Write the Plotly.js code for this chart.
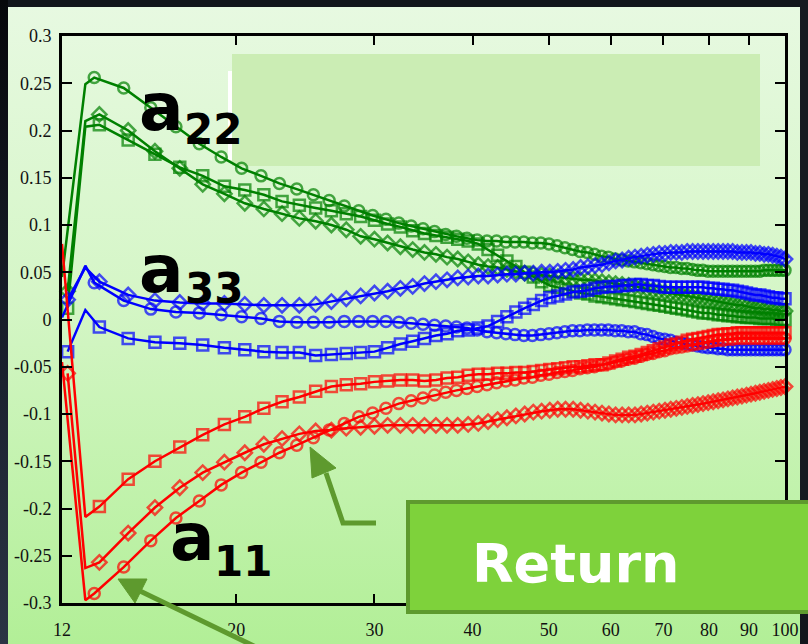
<!DOCTYPE html>
<html>
<head>
<meta charset="utf-8">
<script src="https://cdn.plot.ly/plotly-3.0.1.min.js"></script>
<style>
  html, body { margin:0; padding:0; background:#0d1014; }
  #wrap { position:relative; width:808px; height:644px; overflow:hidden; background:#12161c; }
  #leftband { position:absolute; left:0; top:0; width:8px; height:644px;
    background:linear-gradient(to bottom, #06080a 0%, #1b2230 60%, #2a3444 100%); }
  #bg { position:absolute; left:8px; top:7px; width:792px; height:637px;
    background:linear-gradient(to bottom, #e7f9e1 0%, #d5f6c7 45%, #b2ef97 100%); }
  #chart { position:absolute; left:0; top:0; width:808px; height:644px; }
</style>
</head>
<body>
<div id="wrap">
  <div id="leftband"></div>
  <div id="bg"></div>
  <div id="chart"></div>
</div>
<script>
// ---- data ----
const X_CIRCLE = [12.00,13.19,14.38,15.57,16.76,17.95,19.14,20.32,21.51,22.70,23.89,25.08,26.27,27.46,28.65,29.84,31.03,32.22,33.41,34.59,35.78,36.97,38.16,39.35,40.54,41.73,42.92,44.11,45.30,46.49,47.68,48.86,50.05,51.24,52.43,53.62,54.81,56.00,57.19,58.38,59.57,60.76,61.95,63.14,64.32,65.51,66.70,67.89,69.08,70.27,71.46,72.65,73.84,75.03,76.22,77.41,78.59,79.78,80.97,82.16,83.35,84.54,85.73,86.92,88.11,89.30,90.49,91.68,92.86,94.05,95.24,96.43,97.62,98.81,100.00];
const X_SQDIA = [12.20,13.39,14.57,15.76,16.95,18.13,19.32,20.51,21.69,22.88,24.07,25.25,26.44,27.62,28.81,30.00,31.18,32.37,33.56,34.74,35.93,37.12,38.30,39.49,40.68,41.86,43.05,44.24,45.42,46.61,47.80,48.98,50.17,51.35,52.54,53.73,54.91,56.10,57.29,58.47,59.66,60.85,62.03,63.22,64.41,65.59,66.78,67.97,69.15,70.34,71.53,72.71,73.90,75.08,76.27,77.46,78.64,79.83,81.02,82.20,83.39,84.58,85.76,86.95,88.14,89.32,90.51,91.70,92.88,94.07,95.25,96.44,97.63,98.81,100.00];
const X_KINK = 12.85;

const a22_circle = [0.045,0.256,0.245,0.224,0.204,0.186,0.172,0.160,0.152,0.144,
  0.138,0.132,0.126,0.120,0.115,0.110,0.106,0.102,0.099,0.096,
  0.093,0.090,0.088,0.086,0.084,0.083,0.083,0.082,0.082,0.082,
  0.081,0.081,0.080,0.078,0.076,0.074,0.072,0.071,0.069,0.067,
  0.066,0.064,0.063,0.062,0.061,0.060,0.059,0.058,0.057,0.056,
  0.055,0.055,0.054,0.054,0.053,0.052,0.052,0.051,0.051,0.051,
  0.051,0.051,0.051,0.051,0.051,0.051,0.051,0.051,0.051,0.052,
  0.052,0.052,0.052,0.052,0.052];
const a22_diamond = [0.030,0.217,0.200,0.178,0.160,0.143,0.133,0.123,0.117,0.112,
  0.107,0.104,0.100,0.095,0.088,0.085,0.081,0.077,0.074,0.071,
  0.069,0.066,0.064,0.061,0.058,0.056,0.055,0.053,0.051,0.049,
  0.048,0.047,0.046,0.045,0.044,0.043,0.042,0.042,0.041,0.040,
  0.039,0.038,0.037,0.036,0.035,0.034,0.032,0.031,0.030,0.029,
  0.028,0.027,0.026,0.025,0.024,0.023,0.022,0.021,0.020,0.019,
  0.018,0.017,0.016,0.015,0.015,0.014,0.013,0.012,0.012,0.011,
  0.011,0.010,0.010,0.009,0.009];
const a22_square = [0.012,0.206,0.190,0.175,0.161,0.152,0.141,0.137,0.132,0.125,
  0.121,0.118,0.115,0.112,0.109,0.105,0.101,0.098,0.094,0.091,
  0.089,0.087,0.085,0.083,0.080,0.074,0.068,0.062,0.056,0.050,
  0.045,0.040,0.036,0.034,0.032,0.030,0.028,0.027,0.025,0.024,
  0.023,0.022,0.021,0.020,0.019,0.018,0.017,0.016,0.015,0.014,
  0.013,0.012,0.011,0.010,0.009,0.008,0.007,0.007,0.006,0.005,
  0.005,0.004,0.004,0.003,0.003,0.002,0.002,0.002,0.001,0.001,
  0.001,0.001,0.000,0.000,0.000];
const a33_circle = [0.002,0.039,0.020,0.011,0.008,0.007,0.005,0.003,0.001,-0.002,
  -0.003,-0.003,-0.003,-0.002,-0.002,-0.002,-0.002,-0.003,-0.004,-0.005,
  -0.006,-0.007,-0.008,-0.009,-0.011,-0.013,-0.014,-0.015,-0.016,-0.017,
  -0.017,-0.016,-0.015,-0.014,-0.013,-0.012,-0.012,-0.011,-0.011,-0.011,
  -0.011,-0.012,-0.012,-0.013,-0.013,-0.015,-0.016,-0.018,-0.020,-0.021,
  -0.022,-0.024,-0.025,-0.026,-0.027,-0.028,-0.029,-0.030,-0.030,-0.031,
  -0.031,-0.032,-0.032,-0.032,-0.032,-0.032,-0.032,-0.032,-0.032,-0.032,
  -0.032,-0.032,-0.032,-0.032,-0.032];
const a33_diamond = [0.021,0.040,0.026,0.020,0.018,0.017,0.017,0.016,0.015,0.015,
  0.015,0.016,0.019,0.022,0.025,0.028,0.030,0.033,0.035,0.038,
  0.040,0.042,0.044,0.045,0.046,0.046,0.047,0.048,0.048,0.049,
  0.049,0.050,0.050,0.051,0.052,0.053,0.055,0.056,0.057,0.058,
  0.060,0.062,0.063,0.065,0.066,0.067,0.068,0.069,0.070,0.070,
  0.071,0.071,0.071,0.072,0.072,0.072,0.072,0.072,0.072,0.072,
  0.072,0.072,0.072,0.071,0.071,0.071,0.071,0.070,0.070,0.069,
  0.069,0.068,0.067,0.066,0.064];
const a33_square = [-0.034,-0.008,-0.020,-0.024,-0.025,-0.027,-0.030,-0.032,-0.034,-0.035,
  -0.035,-0.038,-0.037,-0.036,-0.035,-0.034,-0.030,-0.026,-0.023,-0.020,
  -0.017,-0.015,-0.012,-0.011,-0.009,-0.007,-0.002,0.003,0.008,0.012,
  0.016,0.020,0.023,0.025,0.027,0.029,0.030,0.031,0.033,0.034,
  0.035,0.035,0.036,0.036,0.037,0.037,0.036,0.036,0.035,0.034,
  0.034,0.034,0.034,0.034,0.034,0.034,0.034,0.033,0.033,0.032,
  0.032,0.031,0.031,0.030,0.029,0.028,0.027,0.026,0.026,0.025,
  0.024,0.023,0.023,0.022,0.022];
const a11_circle = [-0.045,-0.290,-0.262,-0.234,-0.210,-0.192,-0.175,-0.162,-0.151,-0.141,
  -0.133,-0.125,-0.117,-0.110,-0.103,-0.099,-0.094,-0.089,-0.086,-0.083,
  -0.080,-0.077,-0.075,-0.073,-0.071,-0.069,-0.067,-0.065,-0.064,-0.062,
  -0.061,-0.059,-0.058,-0.056,-0.055,-0.054,-0.052,-0.051,-0.050,-0.048,
  -0.047,-0.045,-0.044,-0.042,-0.041,-0.039,-0.037,-0.036,-0.034,-0.033,
  -0.031,-0.030,-0.029,-0.028,-0.027,-0.026,-0.025,-0.024,-0.023,-0.022,
  -0.022,-0.021,-0.021,-0.020,-0.020,-0.020,-0.020,-0.020,-0.020,-0.020,
  -0.020,-0.020,-0.020,-0.020,-0.020];
const a11_square = [0.080,-0.198,-0.169,-0.150,-0.135,-0.122,-0.111,-0.103,-0.094,-0.087,
  -0.082,-0.076,-0.071,-0.069,-0.068,-0.066,-0.065,-0.064,-0.064,-0.065,
  -0.064,-0.062,-0.061,-0.059,-0.058,-0.058,-0.057,-0.057,-0.056,-0.056,
  -0.055,-0.054,-0.053,-0.052,-0.051,-0.050,-0.050,-0.049,-0.048,-0.048,
  -0.046,-0.044,-0.042,-0.040,-0.039,-0.037,-0.035,-0.033,-0.031,-0.029,
  -0.027,-0.026,-0.024,-0.022,-0.021,-0.020,-0.019,-0.018,-0.017,-0.016,
  -0.016,-0.015,-0.015,-0.014,-0.014,-0.014,-0.014,-0.014,-0.014,-0.014,
  -0.014,-0.014,-0.014,-0.014,-0.014];
const a11_diamond = [-0.057,-0.257,-0.226,-0.199,-0.178,-0.162,-0.151,-0.141,-0.132,-0.126,
  -0.121,-0.118,-0.117,-0.115,-0.114,-0.113,-0.112,-0.112,-0.112,-0.112,
  -0.112,-0.112,-0.112,-0.111,-0.110,-0.108,-0.106,-0.104,-0.102,-0.100,
  -0.098,-0.097,-0.096,-0.095,-0.095,-0.095,-0.096,-0.097,-0.098,-0.099,
  -0.100,-0.101,-0.101,-0.101,-0.101,-0.100,-0.099,-0.098,-0.097,-0.096,
  -0.095,-0.094,-0.093,-0.092,-0.091,-0.090,-0.089,-0.088,-0.087,-0.086,
  -0.085,-0.084,-0.083,-0.082,-0.081,-0.080,-0.079,-0.078,-0.077,-0.076,
  -0.075,-0.074,-0.073,-0.072,-0.071];
// value of each curve at its sharp kink near x = 12.85
const KINK = { a22_circle:0.249, a22_diamond:0.210, a22_square:0.204,
               a33_circle:0.057, a33_diamond:0.055, a33_square:0.010,
               a11_circle:-0.297, a11_diamond:-0.263, a11_square:-0.209 };
// series whose first point is a bare line vertex (no visible marker)
const LINE_ONLY_START = ['a11_square'];

const X_TICKS = [12,20,30,40,50,60,70,80,90,100];
const Y_TICKS = [0.3,0.25,0.2,0.15,0.1,0.05,0,-0.05,-0.1,-0.15,-0.2,-0.25,-0.3];
const Y_TICK_TEXT = ['0.3','0.25','0.2','0.15','0.1','0.05','0','-0.05','-0.1','-0.15','-0.2','-0.25','-0.3'];

// ---- styling ----
const GREEN = '#008000', BLUE = '#0000ff', RED = '#ff0000';
const series = [
  ['a22_circle', a22_circle, X_CIRCLE, GREEN, 'circle-open'],
  ['a22_diamond', a22_diamond, X_SQDIA, GREEN, 'diamond-open'],
  ['a22_square', a22_square, X_SQDIA, GREEN, 'square-open'],
  ['a33_circle', a33_circle, X_CIRCLE, BLUE, 'circle-open'],
  ['a33_diamond', a33_diamond, X_SQDIA, BLUE, 'diamond-open'],
  ['a33_square', a33_square, X_SQDIA, BLUE, 'square-open'],
  ['a11_circle', a11_circle, X_CIRCLE, RED, 'circle-open'],
  ['a11_diamond', a11_diamond, X_SQDIA, RED, 'diamond-open'],
  ['a11_square', a11_square, X_SQDIA, RED, 'square-open']
];
const MS = 11;
const traces = series.map(([name, ys, xs, col, sym]) => {
  const bare = LINE_ONLY_START.includes(name);
  const x0 = bare ? 12 : xs[0];
  const x = [x0, X_KINK].concat(xs.slice(1));
  const y = [ys[0], KINK[name]].concat(ys.slice(1));
  const sizes = x.map((_, i) => (i === 1 || (i === 0 && bare)) ? 0 : MS);
  return {
    type:'scatter', mode:'lines+markers', name, x, y, cliponaxis:false,
    line:{color:col, width:2.5},
    marker:{symbol:sym, size:sizes, color:col, line:{color:col, width:2.5}},
    hoverinfo:'skip', showlegend:false
  };
});

// pixel -> paper helpers for decorations
const L = 62, R = 785, T = 36, B = 603;
const px = p => (p - L) / (R - L);
const py = p => (B - p) / (B - T);
const pt = (a, b) => px(a) + ',' + py(b);

const ARROW = '#5e9a2e';
const shapes = [
  {type:'rect', xref:'paper', yref:'paper', x0:px(232), x1:px(760), y0:py(166), y1:py(54),
   fillcolor:'#cbedb4', line:{width:0}, layer:'below'},
  {type:'rect', xref:'paper', yref:'paper', x0:px(228), x1:px(232), y0:py(160), y1:py(71),
   fillcolor:'#ffffff', line:{width:0}, layer:'below'},
  // right dark edge
  {type:'rect', xref:'paper', yref:'paper', x0:px(800), x1:px(812), y0:py(500), y1:py(-5),
   fillcolor:'#161b22', line:{width:0}, layer:'above'},
  // Return button
  {type:'rect', xref:'paper', yref:'paper', x0:px(408), x1:px(814), y0:py(612), y1:py(502),
   fillcolor:'#7ed23b', line:{color:ARROW, width:4}, layer:'above'},
  // upper arrow
  {type:'path', xref:'paper', yref:'paper', layer:'above',
   path:'M' + pt(376,523) + ' L' + pt(343,523) + ' L' + pt(326,473),
   line:{color:ARROW, width:5}},
  {type:'path', xref:'paper', yref:'paper', layer:'above',
   path:'M' + pt(310,447) + ' L' + pt(336,468) + ' L' + pt(312,478) + ' Z',
   fillcolor:ARROW, line:{color:ARROW, width:1}},
  // lower arrow
  {type:'path', xref:'paper', yref:'paper', layer:'above',
   path:'M' + pt(258,648) + ' L' + pt(140,591),
   line:{color:ARROW, width:5}},
  {type:'path', xref:'paper', yref:'paper', layer:'above',
   path:'M' + pt(118,579) + ' L' + pt(147,579) + ' L' + pt(135,603) + ' Z',
   fillcolor:ARROW, line:{color:ARROW, width:1}}
];

const BIG = {family:'DejaVu Sans', size:66, color:'#000', weight:'bold'};
const SUB = {family:'DejaVu Sans', size:42, color:'#000', weight:'bold'};
const ann = (text, xp, yp, font, anchor) => ({
  text, xref:'paper', yref:'paper', x:px(xp), y:py(yp), xanchor:anchor || 'left', yanchor:'middle',
  showarrow:false, font
});
const annotations = [
  ann('a', 137, 107, BIG), ann('22', 182, 129, SUB),
  ann('a', 137, 269, BIG), ann('33', 183, 288, SUB),
  ann('a', 168, 537, BIG), ann('11', 212, 561, SUB),
  ann('Return', 576, 563, {family:'DejaVu Sans', size:54, color:'#ffffff', weight:'bold'}, 'center')
];

const tickfont = {family:'Liberation Serif', size:18, color:'#111'};
const layout = {
  width:808, height:644,
  margin:{l:L, r:808 - R, t:T, b:644 - B},
  paper_bgcolor:'rgba(0,0,0,0)', plot_bgcolor:'rgba(0,0,0,0)',
  xaxis:{type:'log', range:[Math.log10(12), 2], tickmode:'array', tickvals:X_TICKS,
    ticktext:X_TICKS.map(String), ticks:'inside', ticklen:9, tickwidth:2, tickcolor:'#000',
    showline:true, linewidth:3, linecolor:'#000', mirror:'ticks', showgrid:false, zeroline:false,
    tickfont, ticklabelstandoff:8},
  yaxis:{range:[-0.3, 0.3], tickmode:'array', tickvals:Y_TICKS, ticktext:Y_TICK_TEXT,
    ticks:'inside', ticklen:10, tickwidth:2, tickcolor:'#000',
    showline:true, linewidth:3, linecolor:'#000', mirror:'ticks', showgrid:false, zeroline:false,
    tickfont, ticklabelstandoff:4},
  shapes, annotations, showlegend:false
};

Plotly.newPlot('chart', traces, layout, {displayModeBar:false, staticPlot:true});
</script>
</body>
</html>
